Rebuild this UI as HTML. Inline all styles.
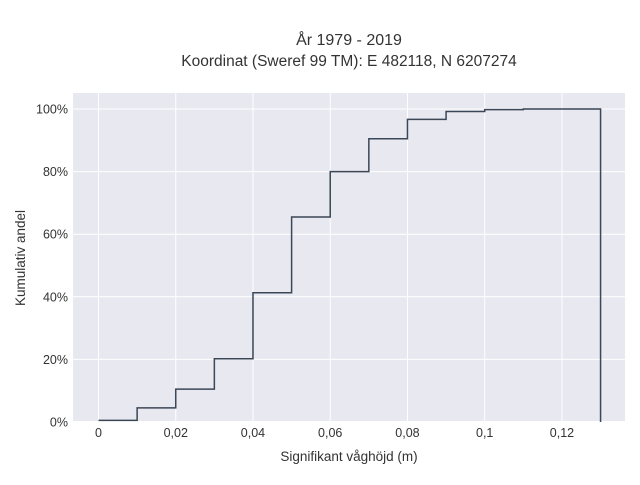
<!DOCTYPE html>
<html><head><meta charset="utf-8"><style>
body{margin:0;background:#fff;font-family:"Liberation Sans",sans-serif;}
</style></head><body>
<svg width="640" height="480" xmlns="http://www.w3.org/2000/svg" font-family="Liberation Sans, sans-serif">
<rect x="0" y="0" width="640" height="480" fill="#fff"/>
<text x="349" y="45" text-anchor="middle" font-size="16" fill="#333">År 1979 - 2019</text>
<text x="349" y="66" text-anchor="middle" font-size="15.5" fill="#333">Koordinat (Sweref 99 TM): E 482118, N 6207274</text>
<rect x="73" y="93" width="552" height="330" fill="#e8e8f1"/>
<g id="grid"></g>
<path id="step" fill="none" stroke="#3b4656" stroke-width="1.5"/>
<g id="labels" font-size="12.5" fill="#333"></g>
<text x="349" y="461" text-anchor="middle" font-size="13.5" fill="#333">Signifikant våghöjd (m)</text>
<text transform="translate(25,258) rotate(-90)" text-anchor="middle" font-size="13.5" fill="#333">Kumulativ andel</text>
</svg>
<script>
const binEdges=[0,0.01,0.02,0.03,0.04,0.05,0.06,0.07,0.08,0.09,0.1,0.11,0.13];
const cumValues=[0.005,0.045,0.105,0.202,0.413,0.655,0.80,0.905,0.967,0.992,0.998,1.0];
const xTicks=[0,0.02,0.04,0.06,0.08,0.1,0.12];
const xTickLabels=["0","0,02","0,04","0,06","0,08","0,1","0,12"];
const yTicks=[0,0.2,0.4,0.6,0.8,1];
const yTickLabels=["0%","20%","40%","60%","80%","100%"];
const X=v=>98.5+v*3862;
const Y=v=>422-v*313;
const ns="http://www.w3.org/2000/svg";
const grid=document.getElementById('grid'),labels=document.getElementById('labels');
xTicks.forEach((t,i)=>{
 const l=document.createElementNS(ns,'line');
 
 
 l.setAttribute('x1',X(t));l.setAttribute('x2',X(t));l.setAttribute('y1',93);l.setAttribute('y2',423);
 l.setAttribute('stroke','#fff');l.setAttribute('stroke-width','1');grid.appendChild(l);
 const tx=document.createElementNS(ns,'text');
 
 
 tx.setAttribute('x',X(t));tx.setAttribute('y',437);tx.setAttribute('text-anchor','middle');
 tx.textContent=xTickLabels[i];labels.appendChild(tx);
});
yTicks.forEach((t,i)=>{
 const l=document.createElementNS(ns,'line');
 
 
 l.setAttribute('x1',73);l.setAttribute('x2',625);l.setAttribute('y1',Y(t));l.setAttribute('y2',Y(t));
 l.setAttribute('stroke','#fff');l.setAttribute('stroke-width',t===0?'2':'1');grid.appendChild(l);
 const tx=document.createElementNS(ns,'text');
 
 
 tx.setAttribute('x',68);tx.setAttribute('y',Y(t)+4.5);tx.setAttribute('text-anchor','end');
 tx.textContent=yTickLabels[i];labels.appendChild(tx);
});
let d='M'+X(binEdges[0])+','+Y(cumValues[0]);
cumValues.forEach((v,i)=>{d+=' L'+X(binEdges[i])+','+Y(v)+' L'+X(binEdges[i+1])+','+Y(v);});
d+=' L'+X(binEdges[binEdges.length-1])+','+Y(0);
document.getElementById('step').setAttribute('d',d);
</script>
</body></html>
